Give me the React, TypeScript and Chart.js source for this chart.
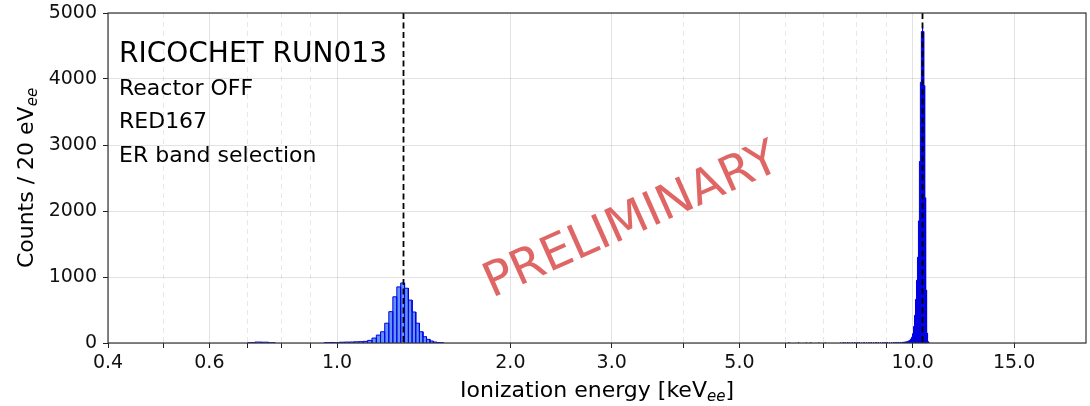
import React, { useEffect, useRef } from "react";
import { Chart, registerables } from "chart.js";

Chart.register(...registerables);

// ---------------- data ----------------
const BIN_WIDTH = 0.02; // keV (20 eV bins)
const X_MIN = 0.4;
const X_MAX = 20;
const Y_MAX = 5000;

// small bump around 0.7 keV (lower edge of first bin, counts per bin)
const BUMP_START = 0.70;
const BUMP_COUNTS = [5, 14, 12, 4];

// L-shell region, bins starting at 0.95 keV
const L_PEAK_START = 0.95;
const L_PEAK_COUNTS = [
  6, 8, 5, 12, 14, 15, 18, 20, 25, 40,
  75, 120, 170, 300, 475, 700, 850, 910, 830, 650,
  470, 300, 170, 95, 55, 30, 15, 8, 5,
];

// sparse low-energy tail below the K-shell peak (single bins)
const TAIL_EDGES = [
  6.08, 6.32, 6.52, 6.64, 6.86, 7.04, 7.48, 7.56, 7.62, 7.70, 7.76, 7.84,
  7.92, 8.00, 8.06, 8.14, 8.22, 8.30, 8.38, 8.46, 8.54, 8.62, 8.70, 8.78,
  8.86, 8.94, 9.02, 9.10, 9.18, 9.26, 9.34, 9.42, 9.50, 9.56,
];
const TAIL_COUNTS = [
  3, 3, 2, 3, 2, 2, 4, 5, 4, 5, 6, 5,
  6, 5, 6, 6, 7, 6, 7, 7, 8, 7, 8, 8,
  7, 8, 8, 9, 9, 8, 9, 9, 10, 9,
];

// K-shell region, bins starting at 9.60 keV
const K_PEAK_START = 9.60;
const K_PEAK_COUNTS = [
  10, 10, 12, 13, 14, 15, 17, 18, 20, 22,
  25, 28, 32, 36, 42, 50, 60, 72, 88, 110,
  140, 190, 250, 330, 420, 530, 660, 800, 950, 1100,
  1300, 1550, 1850, 2250, 2750, 3300, 3950, 4450, 4720, 4800,
  4790, 4720, 4450, 3900, 3100, 2200, 1400, 800, 380, 150,
  55, 20, 8, 3,
];

// reference lines (keV)
const LINE_ENERGIES = [1.3, 10.37];

// axis ticks
const X_MAJOR_TICKS = [0.4, 0.6, 1, 2, 3, 5, 10, 15];
const X_MINOR_TICKS = [0.5, 0.7, 0.8, 0.9, 4, 6, 7, 8, 9];
const Y_TICK_STEP = 1000;

// texts
const INFO_TITLE = "RICOCHET RUN013";
const INFO_LINES = ["Reactor OFF", "RED167", "ER band selection"];
const WATERMARK = "PRELIMINARY";
const X_TITLE = ["Ionization energy [keV", "ee", "]"];
const Y_TITLE = ["Counts / 20 eV", "ee", ""];

// ---------------- helpers ----------------
type Pt = { x: number; y: number | null };

function addBins(start: number, counts: number[], pts: Pt[]) {
  let hi = start;
  counts.forEach((c, i) => {
    const lo = +(start + i * BIN_WIDTH).toFixed(4);
    hi = +(lo + BIN_WIDTH).toFixed(4);
    pts.push({ x: lo, y: 0 }, { x: lo, y: c }, { x: hi, y: c }, { x: hi, y: 0 });
  });
  pts.push({ x: hi + 1e-4, y: null });
}

function buildHistogram(): Pt[] {
  const pts: Pt[] = [];
  addBins(BUMP_START, BUMP_COUNTS, pts);
  addBins(L_PEAK_START, L_PEAK_COUNTS, pts);
  TAIL_EDGES.forEach((e, i) => addBins(e, [TAIL_COUNTS[i]], pts));
  addBins(K_PEAK_START, K_PEAK_COUNTS, pts);
  return pts;
}

const FONT = '"DejaVu Sans", sans-serif';

function drawPieces(
  ctx: CanvasRenderingContext2D,
  pieces: string[],
  cx: number,
  baseline: number,
  size: number
) {
  const subSize = Math.round(size * 0.7);
  const mainFont = `${size}px ${FONT}`;
  const subFont = `italic ${subSize}px ${FONT}`;
  ctx.font = mainFont;
  const w0 = ctx.measureText(pieces[0]).width;
  const w2 = ctx.measureText(pieces[2]).width;
  ctx.font = subFont;
  const w1 = ctx.measureText(pieces[1]).width;
  const total = w0 + w1 + w2;
  let x = cx - total / 2;
  ctx.textAlign = "left";
  ctx.textBaseline = "alphabetic";
  ctx.font = mainFont;
  ctx.fillText(pieces[0], x, baseline);
  x += w0;
  ctx.font = subFont;
  ctx.fillText(pieces[1], x, baseline + size * 0.2);
  x += w1;
  ctx.font = mainFont;
  if (pieces[2]) ctx.fillText(pieces[2], x, baseline);
}

const decorPlugin = {
  id: "decor",
  afterDatasetsDraw(chart: any) {
    const { ctx, chartArea } = chart;
    const xs = chart.scales.x;
    ctx.save();
    ctx.strokeStyle = "#000";
    ctx.lineWidth = 1.8;
    ctx.setLineDash([6, 3.5]);
    LINE_ENERGIES.forEach((e) => {
      const px = Math.round(xs.getPixelForValue(e)) + 0.5;
      ctx.beginPath();
      ctx.moveTo(px, chartArea.top);
      ctx.lineTo(px, chartArea.bottom);
      ctx.stroke();
    });
    ctx.setLineDash([]);
    ctx.strokeStyle = "#333";
    ctx.lineWidth = 1.2;
    ctx.strokeRect(
      chartArea.left,
      chartArea.top,
      chartArea.right - chartArea.left,
      chartArea.bottom - chartArea.top
    );
    ctx.restore();
  },
  afterDraw(chart: any) {
    const { ctx, chartArea } = chart;
    const { left, top, right, bottom } = chartArea;
    ctx.save();
    ctx.fillStyle = "#000";
    ctx.textAlign = "left";
    ctx.textBaseline = "alphabetic";
    ctx.font = `28px ${FONT}`;
    ctx.fillText(INFO_TITLE, left + 11, top + 49);
    ctx.font = `22px ${FONT}`;
    INFO_LINES.forEach((t, i) => {
      ctx.fillText(t, left + 11, top + 82 + i * 33.3);
    });

    // axis titles
    drawPieces(ctx, X_TITLE, (left + right) / 2, bottom + 54, 22);
    ctx.save();
    ctx.translate(33, (top + bottom) / 2);
    ctx.rotate(-Math.PI / 2);
    drawPieces(ctx, Y_TITLE, 0, 0, 22);
    ctx.restore();

    // watermark
    ctx.save();
    ctx.translate(left + 524, top + 209);
    ctx.rotate((-24 * Math.PI) / 180);
    ctx.fillStyle = "#e06666";
    ctx.font = `48px ${FONT}`;
    ctx.textAlign = "center";
    ctx.textBaseline = "middle";
    ctx.fillText(WATERMARK, 0, 0);
    ctx.restore();

    ctx.restore();
  },
};

export default function App() {
  const ref = useRef<HTMLCanvasElement | null>(null);

  useEffect(() => {
    document.body.style.margin = "0";
    const canvas = ref.current;
    if (!canvas) return;
    Chart.defaults.font.family = FONT;
    const allTicks = [...X_MAJOR_TICKS, ...X_MINOR_TICKS].sort((a, b) => a - b);
    const isMinor = (v: number) => X_MINOR_TICKS.includes(v);

    const chart = new Chart(canvas, {
      type: "line",
      data: {
        datasets: [
          {
            data: buildHistogram() as any,
            borderColor: "rgb(0,0,225)",
            backgroundColor: "rgb(98,146,250)",
            borderWidth: 1,
            fill: "origin",
            pointRadius: 0,
            pointHoverRadius: 0,
            tension: 0,
            spanGaps: false,
          },
        ],
      },
      options: {
        animation: false,
        responsive: false,
        devicePixelRatio: 1,
        events: [],
        parsing: { xAxisKey: "x", yAxisKey: "y" } as any,
        layout: { padding: { top: 13, right: 4, left: 0, bottom: 0 } },
        plugins: {
          legend: { display: false },
          tooltip: { enabled: false },
        },
        scales: {
          x: {
            type: "logarithmic",
            min: X_MIN,
            max: X_MAX,
            afterBuildTicks: (s: any) => {
              s.ticks = allTicks.map((v) => ({ value: v }));
            },
            afterFit: (s: any) => {
              s.height = 63;
            },
            ticks: {
              autoSkip: false,
              maxRotation: 0,
              minRotation: 0,
              padding: 4,
              color: "#111",
              font: { size: 19 },
              callback: (v: any) => (isMinor(Number(v)) ? "" : Number(v).toFixed(1)),
            },
            grid: {
              color: (c: any) =>
                c.tick && isMinor(c.tick.value) ? "rgba(0,0,0,0.09)" : "rgba(0,0,0,0.11)",
              tickColor: "#222",
              tickLength: 5,
              lineWidth: 1,
            },
            border: {
              display: false,
              dash: (c: any) => (c.tick && isMinor(c.tick.value) ? [5, 4] : []),
            },
          },
          y: {
            type: "linear",
            min: 0,
            max: Y_MAX,
            afterFit: (s: any) => {
              s.width = 108;
            },
            ticks: {
              stepSize: Y_TICK_STEP,
              padding: 6,
              color: "#111",
              font: { size: 19, lineHeight: 0.7 },
              callback: (v: any) => String(v),
            },
            grid: {
              color: "rgba(0,0,0,0.11)",
              tickColor: "#222",
              tickLength: 5,
              lineWidth: 1,
            },
            border: { display: false },
          },
        },
      },
      plugins: [decorPlugin],
    });
    return () => chart.destroy();
  }, []);

  return (
    <div style={{ width: 1090, height: 406 }}>
      <canvas ref={ref} width={1090} height={406} style={{ display: "block" }} />
    </div>
  );
}
